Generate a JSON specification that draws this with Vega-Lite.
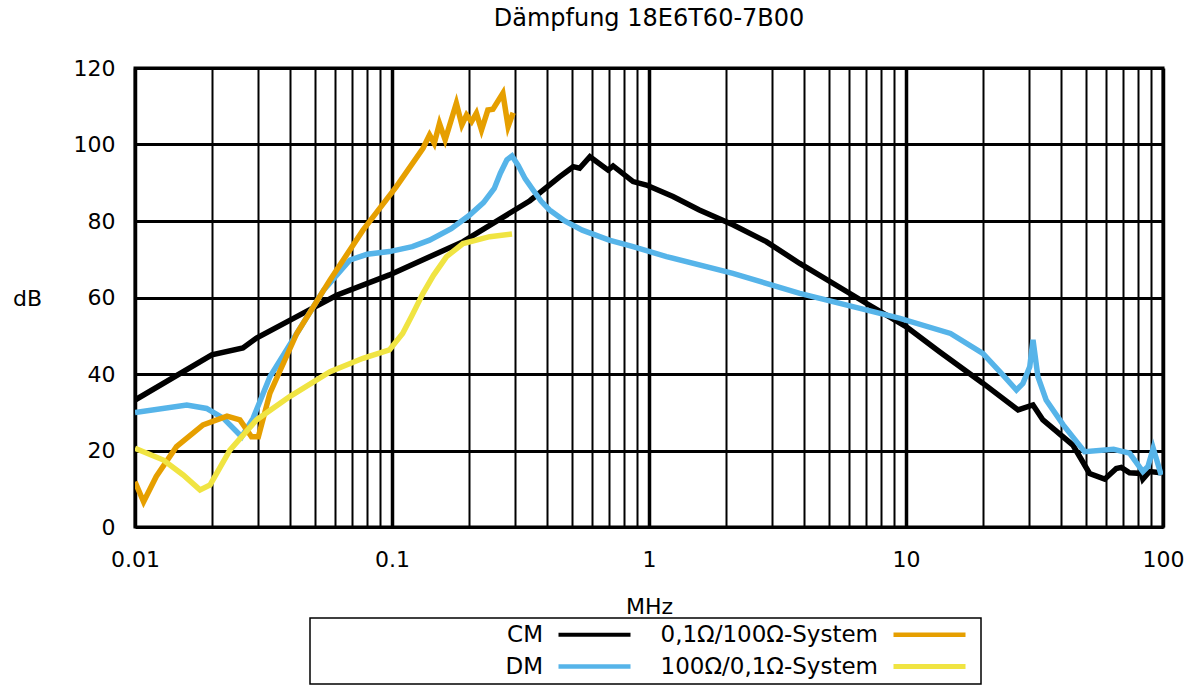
{
  "$schema": "https://vega.github.io/schema/vega-lite/v6.json",
  "width": 1028,
  "height": 459,
  "autosize": {"type": "none"},
  "padding": {"left": 135, "top": 68, "right": 36, "bottom": 158},
  "background": "white",
  "config": {
    "font": "DejaVu Sans",
    "view": {"stroke": "black", "strokeWidth": 3},
    "axis": {"labelFont": "DejaVu Sans", "titleFont": "DejaVu Sans"},
    "legend": {"labelFont": "DejaVu Sans", "titleFont": "DejaVu Sans", "strokeWidth": 1.5}
  },
  "title": {
    "text": "Dämpfung 18E6T60-7B00",
    "fontSize": 24,
    "fontWeight": "normal",
    "color": "black",
    "anchor": "middle",
    "offset": 26,
    "font": "DejaVu Sans"
  },
  "data": {
    "values": [
      {"s": "CM", "f": 0.01, "dB": 33.2},
      {"s": "CM", "f": 0.0199, "dB": 45},
      {"s": "CM", "f": 0.0263, "dB": 46.8},
      {"s": "CM", "f": 0.0297, "dB": 49.4},
      {"s": "CM", "f": 0.0426, "dB": 55},
      {"s": "CM", "f": 0.0609, "dB": 60.6},
      {"s": "CM", "f": 0.0977, "dB": 65.9},
      {"s": "CM", "f": 0.189, "dB": 74.6},
      {"s": "CM", "f": 0.344, "dB": 85.3},
      {"s": "CM", "f": 0.45, "dB": 91.6},
      {"s": "CM", "f": 0.507, "dB": 94.2},
      {"s": "CM", "f": 0.537, "dB": 93.8},
      {"s": "CM", "f": 0.589, "dB": 96.8},
      {"s": "CM", "f": 0.693, "dB": 93.3},
      {"s": "CM", "f": 0.725, "dB": 94.4},
      {"s": "CM", "f": 0.867, "dB": 90.3},
      {"s": "CM", "f": 0.977, "dB": 89.4},
      {"s": "CM", "f": 1.24, "dB": 86.4},
      {"s": "CM", "f": 1.57, "dB": 82.9},
      {"s": "CM", "f": 2.12, "dB": 79},
      {"s": "CM", "f": 2.86, "dB": 74.6},
      {"s": "CM", "f": 3.86, "dB": 68.9},
      {"s": "CM", "f": 7.0, "dB": 58.5},
      {"s": "CM", "f": 10.0, "dB": 52.4},
      {"s": "CM", "f": 13.5, "dB": 45.8},
      {"s": "CM", "f": 19.9, "dB": 37.6},
      {"s": "CM", "f": 27.3, "dB": 30.6},
      {"s": "CM", "f": 31.2, "dB": 31.9},
      {"s": "CM", "f": 34.1, "dB": 28.0},
      {"s": "CM", "f": 44.6, "dB": 21.4},
      {"s": "CM", "f": 51.8, "dB": 14.0},
      {"s": "CM", "f": 59.3, "dB": 12.5},
      {"s": "CM", "f": 65.8, "dB": 15.3},
      {"s": "CM", "f": 68.8, "dB": 15.6},
      {"s": "CM", "f": 74.1, "dB": 14.2},
      {"s": "CM", "f": 82.3, "dB": 14.0},
      {"s": "CM", "f": 83.5, "dB": 12.5},
      {"s": "CM", "f": 88.6, "dB": 14.5},
      {"s": "CM", "f": 98.4, "dB": 14.2},

      {"s": "DM", "f": 0.01, "dB": 29.9},
      {"s": "DM", "f": 0.0159, "dB": 31.9},
      {"s": "DM", "f": 0.019, "dB": 31.0},
      {"s": "DM", "f": 0.0221, "dB": 28.4},
      {"s": "DM", "f": 0.026, "dB": 23.6},
      {"s": "DM", "f": 0.0288, "dB": 28.4},
      {"s": "DM", "f": 0.0335, "dB": 39.3},
      {"s": "DM", "f": 0.0426, "dB": 50.6},
      {"s": "DM", "f": 0.0543, "dB": 62.0},
      {"s": "DM", "f": 0.0686, "dB": 69.8},
      {"s": "DM", "f": 0.08, "dB": 71.3},
      {"s": "DM", "f": 0.0977, "dB": 72.0},
      {"s": "DM", "f": 0.12, "dB": 73.3},
      {"s": "DM", "f": 0.14, "dB": 75},
      {"s": "DM", "f": 0.17, "dB": 78},
      {"s": "DM", "f": 0.2, "dB": 81.5},
      {"s": "DM", "f": 0.227, "dB": 84.8},
      {"s": "DM", "f": 0.25, "dB": 88.5},
      {"s": "DM", "f": 0.264, "dB": 92.5},
      {"s": "DM", "f": 0.28, "dB": 96},
      {"s": "DM", "f": 0.293, "dB": 97.0},
      {"s": "DM", "f": 0.31, "dB": 94.5},
      {"s": "DM", "f": 0.33, "dB": 91},
      {"s": "DM", "f": 0.354, "dB": 88.1},
      {"s": "DM", "f": 0.38, "dB": 85.2},
      {"s": "DM", "f": 0.41, "dB": 82.9},
      {"s": "DM", "f": 0.47, "dB": 80},
      {"s": "DM", "f": 0.55, "dB": 77.6},
      {"s": "DM", "f": 0.7, "dB": 75},
      {"s": "DM", "f": 0.867, "dB": 73.3},
      {"s": "DM", "f": 1.17, "dB": 70.7},
      {"s": "DM", "f": 2.12, "dB": 66.3},
      {"s": "DM", "f": 3.86, "dB": 61.1},
      {"s": "DM", "f": 9.4, "dB": 54.6},
      {"s": "DM", "f": 14.9, "dB": 50.6},
      {"s": "DM", "f": 19.9, "dB": 45.4},
      {"s": "DM", "f": 24, "dB": 39.5},
      {"s": "DM", "f": 26.9, "dB": 35.8},
      {"s": "DM", "f": 28.5, "dB": 37.5},
      {"s": "DM", "f": 30.3, "dB": 41.9},
      {"s": "DM", "f": 31.2, "dB": 48.9},
      {"s": "DM", "f": 32.6, "dB": 39.3},
      {"s": "DM", "f": 35.1, "dB": 33.2},
      {"s": "DM", "f": 40.9, "dB": 26.7},
      {"s": "DM", "f": 49.5, "dB": 19.7},
      {"s": "DM", "f": 64.2, "dB": 20.3},
      {"s": "DM", "f": 74.1, "dB": 19.3},
      {"s": "DM", "f": 83.5, "dB": 14.5},
      {"s": "DM", "f": 87.4, "dB": 15.8},
      {"s": "DM", "f": 91.6, "dB": 20.6},
      {"s": "DM", "f": 98.4, "dB": 13.6},

      {"s": "0,1Ω/100Ω-System", "f": 0.01, "dB": 11.8},
      {"s": "0,1Ω/100Ω-System", "f": 0.0108, "dB": 6.6},
      {"s": "0,1Ω/100Ω-System", "f": 0.0121, "dB": 13.2},
      {"s": "0,1Ω/100Ω-System", "f": 0.0145, "dB": 21},
      {"s": "0,1Ω/100Ω-System", "f": 0.0184, "dB": 26.7},
      {"s": "0,1Ω/100Ω-System", "f": 0.0228, "dB": 29.0},
      {"s": "0,1Ω/100Ω-System", "f": 0.0256, "dB": 28.0},
      {"s": "0,1Ω/100Ω-System", "f": 0.0284, "dB": 23.6},
      {"s": "0,1Ω/100Ω-System", "f": 0.0302, "dB": 23.6},
      {"s": "0,1Ω/100Ω-System", "f": 0.0335, "dB": 35},
      {"s": "0,1Ω/100Ω-System", "f": 0.0426, "dB": 50.6},
      {"s": "0,1Ω/100Ω-System", "f": 0.0574, "dB": 64.6},
      {"s": "0,1Ω/100Ω-System", "f": 0.0771, "dB": 77.6},
      {"s": "0,1Ω/100Ω-System", "f": 0.104, "dB": 89},
      {"s": "0,1Ω/100Ω-System", "f": 0.132, "dB": 99},
      {"s": "0,1Ω/100Ω-System", "f": 0.14, "dB": 102.5},
      {"s": "0,1Ω/100Ω-System", "f": 0.146, "dB": 100.3},
      {"s": "0,1Ω/100Ω-System", "f": 0.153, "dB": 105.5},
      {"s": "0,1Ω/100Ω-System", "f": 0.161, "dB": 101.2},
      {"s": "0,1Ω/100Ω-System", "f": 0.178, "dB": 110.8},
      {"s": "0,1Ω/100Ω-System", "f": 0.187, "dB": 105.1},
      {"s": "0,1Ω/100Ω-System", "f": 0.195, "dB": 107.7},
      {"s": "0,1Ω/100Ω-System", "f": 0.204, "dB": 106},
      {"s": "0,1Ω/100Ω-System", "f": 0.213, "dB": 108.2},
      {"s": "0,1Ω/100Ω-System", "f": 0.223, "dB": 103.8},
      {"s": "0,1Ω/100Ω-System", "f": 0.236, "dB": 109},
      {"s": "0,1Ω/100Ω-System", "f": 0.247, "dB": 109.2},
      {"s": "0,1Ω/100Ω-System", "f": 0.27, "dB": 113.4},
      {"s": "0,1Ω/100Ω-System", "f": 0.283, "dB": 104.7},
      {"s": "0,1Ω/100Ω-System", "f": 0.296, "dB": 108.3},

      {"s": "100Ω/0,1Ω-System", "f": 0.01, "dB": 20.6},
      {"s": "100Ω/0,1Ω-System", "f": 0.0129, "dB": 17.5},
      {"s": "100Ω/0,1Ω-System", "f": 0.0154, "dB": 13.6},
      {"s": "100Ω/0,1Ω-System", "f": 0.0179, "dB": 9.7},
      {"s": "100Ω/0,1Ω-System", "f": 0.0196, "dB": 11.0},
      {"s": "100Ω/0,1Ω-System", "f": 0.0234, "dB": 20.1},
      {"s": "100Ω/0,1Ω-System", "f": 0.0297, "dB": 28.0},
      {"s": "100Ω/0,1Ω-System", "f": 0.04, "dB": 34.1},
      {"s": "100Ω/0,1Ω-System", "f": 0.0574, "dB": 40.6},
      {"s": "100Ω/0,1Ω-System", "f": 0.0771, "dB": 44.1},
      {"s": "100Ω/0,1Ω-System", "f": 0.0977, "dB": 46.3},
      {"s": "100Ω/0,1Ω-System", "f": 0.11, "dB": 50.6},
      {"s": "100Ω/0,1Ω-System", "f": 0.12, "dB": 55.5},
      {"s": "100Ω/0,1Ω-System", "f": 0.132, "dB": 61.1},
      {"s": "100Ω/0,1Ω-System", "f": 0.145, "dB": 65.8},
      {"s": "100Ω/0,1Ω-System", "f": 0.163, "dB": 70.7},
      {"s": "100Ω/0,1Ω-System", "f": 0.189, "dB": 74.1},
      {"s": "100Ω/0,1Ω-System", "f": 0.24, "dB": 75.9},
      {"s": "100Ω/0,1Ω-System", "f": 0.293, "dB": 76.6}
    ]
  },
  "mark": {"type": "line", "clip": true, "strokeWidth": 5.5},
  "encoding": {
    "x": {
      "field": "f",
      "type": "quantitative",
      "scale": {"type": "log", "domain": [0.01, 100], "nice": false},
      "axis": {
        "title": "MHz",
        "titleFontSize": 22,
        "titleFontWeight": "normal",
        "titleColor": "black",
        "titleY": 79,
        "titleBaseline": "middle",
        "values": [0.01,0.02,0.03,0.04,0.05,0.06,0.07,0.08,0.09,0.1,0.2,0.3,0.4,0.5,0.6,0.7,0.8,0.9,1,2,3,4,5,6,7,8,9,10,20,30,40,50,60,70,80,90,100],
        "format": "~g",
        "labelExpr": "indexof([0.01,0.1,1,10,100], datum.value) >= 0 ? datum.label : ''",
        "labelFontSize": 22,
        "labelColor": "black",
        "labelPadding": 22,
        "labelFlush": false,
        "labelOverlap": false,
        "ticks": false,
        "domain": false,
        "grid": true,
        "gridColor": "black",
        "gridOpacity": 1,
        "gridWidth": {"condition": {"test": "indexof([0.01,0.1,1,10,100], datum.value) >= 0", "value": 3.5}, "value": 2}
      }
    },
    "y": {
      "field": "dB",
      "type": "quantitative",
      "scale": {"domain": [0, 120], "nice": false},
      "axis": {
        "title": "dB",
        "titleAngle": 0,
        "titleFontSize": 22,
        "titleFontWeight": "normal",
        "titleColor": "black",
        "titleX": -108,
        "titleY": 230,
        "titleAlign": "center",
        "titleBaseline": "middle",
        "values": [0, 20, 40, 60, 80, 100, 120],
        "labelFontSize": 22,
        "labelColor": "black",
        "labelPadding": 20,
        "ticks": false,
        "domain": false,
        "grid": true,
        "gridColor": "black",
        "gridOpacity": 1,
        "gridWidth": 3
      }
    },
    "strokeWidth": {
      "field": "s",
      "type": "nominal",
      "scale": {
        "domain": ["CM", "0,1Ω/100Ω-System", "DM", "100Ω/0,1Ω-System"],
        "range": [4, 5, 5, 5]
      },
      "legend": null
    },
    "color": {
      "field": "s",
      "type": "nominal",
      "scale": {
        "domain": ["CM", "0,1Ω/100Ω-System", "DM", "100Ω/0,1Ω-System"],
        "range": ["#000000", "#E69F00", "#56B4E9", "#F0E442"]
      },
      "legend": {
        "orient": "none",
        "legendX": 175,
        "legendY": 550,
        "columns": 2,
        "direction": "horizontal",
        "title": " ",
        "titleOrient": "left",
        "titlePadding": 268,
        "titleFontSize": 10,
        "strokeColor": "black",
        "fillColor": "white",
        "padding": 5,
        "rowPadding": 8,
        "columnPadding": 20,
        "symbolType": "M-4,0H4",
        "symbolStrokeWidth": 6,
        "symbolSize": 324,
        "labelFontSize": 23,
        "labelColor": "black",
        "labelAlign": "right",
        "labelOffset": -63,
        "labelLimit": 400
      }
    }
  }
}
